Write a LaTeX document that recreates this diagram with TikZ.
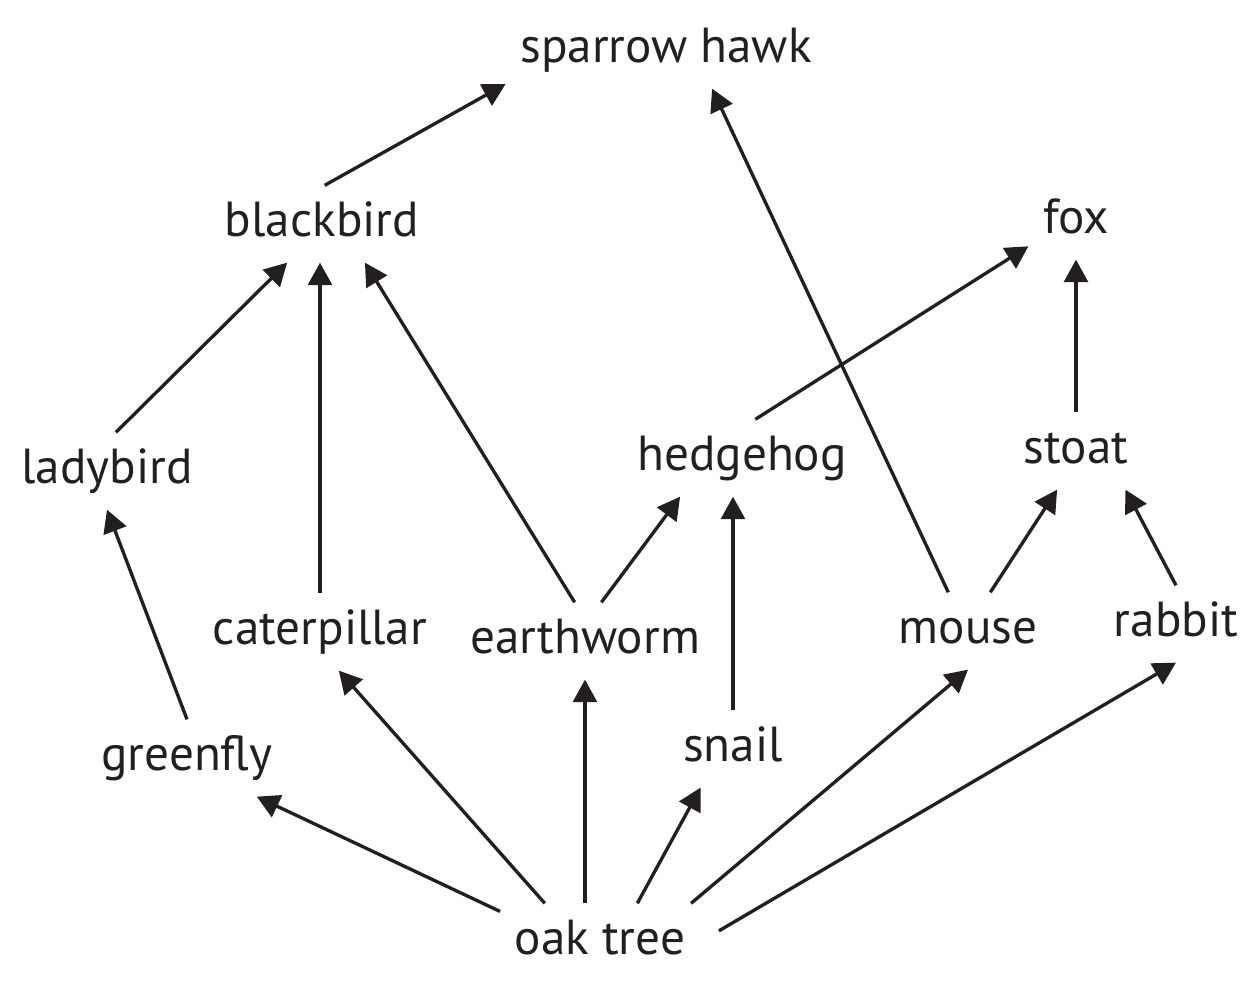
\documentclass[tikz,border=0pt]{standalone}
\usepackage{fontspec}
\setmainfont{PT Sans}
\usepackage{xcolor}
\usetikzlibrary{arrows.meta}
\definecolor{ink}{HTML}{231F20}

\tikzset{
    animal/.style={anchor=base,inner sep=4pt,text height=10.5pt,text depth=3.1pt,
        text=ink,font=\fontsize{14}{17}\selectfont},
    eats/.style={-{Triangle[length=6.4pt,width=6.8pt]},draw=ink,line width=0.95pt}
}

\begin{document}
\begin{tikzpicture}
        \useasboundingbox (0,0) rectangle (12.6,-9.82);
        % who is eaten, placed at the baselines
        \node[animal] (hawk) at (6.66,-0.63) {sparrow hawk};
        \node[animal] (blackbird) at (3.22,-2.37) {blackbird};
        \node[animal] (fox) at (10.76,-2.34) {fox};
        \node[animal] (ladybird) at (1.07,-4.84) {ladybird};
        \node[animal] (hedgehog) at (7.42,-4.71) {hedgehog};
        \node[animal] (stoat) at (10.76,-4.64) {stoat};
        \node[animal] (caterpillar) at (3.20,-6.45) {caterpillar};
        \node[animal] (earthworm) at (5.85,-6.54) {earthworm};
        \node[animal] (mouse) at (9.68,-6.44) {mouse};
        \node[animal] (rabbit) at (11.76,-6.37) {rabbit};
        \node[animal] (greenfly) at (1.87,-7.71) {greenfly};
        \node[animal] (snail) at (7.33,-7.62) {snail};
        \node[animal] (oak) at (6.00,-9.55) {oak tree};
        % arrows point to the eater
        \draw[eats] (blackbird.86) -- (hawk.192);
        \draw[eats] (ladybird.77) -- (blackbird.228);
        \draw[eats] (caterpillar.north) -- (caterpillar.north |- blackbird.south);
        \draw[eats] (earthworm.105) -- (blackbird.-42);
        \draw[eats] (hedgehog.71) -- (fox.208);
        \draw[eats] (mouse.117) -- (hawk.-40);
        \draw[eats] (stoat.north) -- (fox.south);
        \draw[eats] (earthworm.67) -- (hedgehog.212);
        \draw[eats] (snail.north) -- (snail.north |- hedgehog.south);
        \draw[eats] (mouse.60) -- (stoat.244);
        \draw[eats] (rabbit.north) -- (stoat.-38);
        \draw[eats] (greenfly.north) -- (ladybird.south);
        \draw[eats] (oak.163) -- (greenfly.-29);
        \draw[eats] (oak.145) -- (caterpillar.-64);
        \draw[eats] (oak.north -| earthworm.south) -- (earthworm.south);
        \draw[eats] (oak.46) -- (snail.230);
        \draw[eats] (oak.23) -- (mouse.south);
        \draw[eats,shorten <=0.22cm] (oak.east) -- (rabbit.south);
    \end{tikzpicture}
\end{document}
